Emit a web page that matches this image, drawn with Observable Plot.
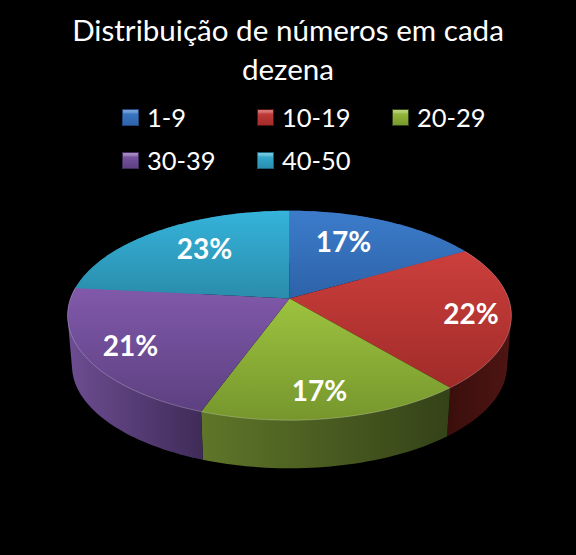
<!DOCTYPE html>
<html lang="pt">
<head>
<meta charset="utf-8">
<script src="https://cdn.jsdelivr.net/npm/d3@7"></script>
<script src="https://cdn.jsdelivr.net/npm/@observablehq/plot@0.6"></script>
<style>
html,body{margin:0;padding:0;background:#000;width:576px;height:555px;overflow:hidden}
#page{width:576px;font-family:Lato,"Open Sans",sans-serif;color:#fff}
#title{height:90px;padding-top:10px;box-sizing:border-box;text-align:center;font-size:29.6px;line-height:39px}
#legend{height:90px;box-sizing:border-box;display:grid;grid-template-columns:135px 135px 135px;grid-auto-rows:43px;padding:6px 0 0 122px;font-size:25.5px}
.item{display:flex;align-items:center;line-height:1}
.sw{width:17px;height:17px;margin-right:8px;box-sizing:border-box;flex:none}
svg{display:block}
</style>
</head>
<body>
<div id="page">
  <div id="title"></div>
  <div id="legend"></div>
  <div id="chart"></div>
</div>
<script>
const titleLines = ["Distribuição de números em cada", "dezena"];
const categories = ["1-9", "10-19", "20-29", "30-39", "40-50"];
const counts = [15, 20, 15, 19, 21];
const topColors = [["#3c7ccb", "#2d62a8"], ["#cc3f3c", "#a02b29"], ["#9dc33f", "#76962d"], ["#8159ab", "#5c4080"], ["#35b3da", "#2a8cab"]];
const sideColors = [["#2d62a8", "#1e4478"], ["#3a0e0c", "#4e1513"], ["#5f7629", "#344218"], ["#6d4d92", "#3f2b58"], ["#2a8eae", "#1b6078"]];
const labelNudges = [[-14, -1], [32, 4], [1, 17], [-25, 9], [7, -1]];

const W = 576, H = 375;
const tilt = 0.162, lowerScale = 0.98, depth = 0.495;

d3.select("#title").selectAll("div").data(titleLines).join("div").text(d => d);
const items = d3.select("#legend").selectAll("div").data(categories).join("div").attr("class", "item");
items.append("span").attr("class", "sw")
  .style("background", (d, i) => `linear-gradient(${topColors[i][0]},${topColors[i][1]})`)
  .style("box-shadow", (d, i) => `inset 0 0 0 1px ${sideColors[i][1]}, inset 0 4px 2px rgba(255,255,255,.3)`);
items.append("span").text(d => d);

// perspective view of the unit disc: t is the fraction of the turn, clockwise from the top
function project(t, r = 1) {
  const a = t * 2 * Math.PI, u = r * Math.sin(a), v = -r * Math.cos(a), den = 1 - tilt * v;
  return {x: u / den, y: v / den};
}
const total = d3.sum(counts);
const edges = [0, ...d3.cumsum(counts).map(c => c / total)];
const arc = (i) => {
  const n = Math.ceil((edges[i + 1] - edges[i]) * 240);
  return d3.range(n + 1).map(k => project(edges[i] + (edges[i + 1] - edges[i]) * k / n));
};
const topPolys = categories.map((c, i) => [{x: 0, y: 0}, ...arc(i)]);
const lower = p => ({x: p.x * lowerScale, y: p.y * lowerScale + depth});
// the wall of a slice is the outline swept between its upper and lower rim; the top face hides the rest
const sidePolys = categories.map((c, i) => {
  const pts = [...arc(i), ...arc(i).map(lower)].map(p => [p.x, p.y]);
  return d3.polygonHull(pts).map(([x, y]) => ({x, y}));
});
const rimFront = edges.slice(0, -1).flatMap((e, i) => i >= 1 && i <= 3 ? arc(i) : []);
const labels = categories.map((c, i) => ({
  ...project((edges[i] + edges[i + 1]) / 2, 0.68),
  text: Math.round(counts[i] / total * 100) + "%"
}));

function gradients() {
  const defs = d3.create("svg:defs");
  const add = (id, cols, horizontal) => {
    const g = defs.append("linearGradient").attr("id", id)
      .attr("x1", 0).attr("y1", 0).attr("x2", horizontal ? 1 : 0).attr("y2", horizontal ? 0 : 1);
    g.append("stop").attr("offset", 0).attr("stop-color", cols[0]);
    g.append("stop").attr("offset", 1).attr("stop-color", cols[1]);
  };
  topColors.forEach((c, i) => add("top" + i, c, false));
  sideColors.forEach((c, i) => add("side" + i, c, true));
  return defs.node();
}

const chart = Plot.plot({
  width: W, height: H, margin: 0,
  style: {background: "#000"},
  x: {domain: [-1, 1], range: [70, 508], axis: null},
  y: {domain: [-1, 1], range: [16, 220], axis: null},
  marks: [
    gradients,
    ...sidePolys.map((p, i) => Plot.line(p, {x: "x", y: "y", fill: `url(#side${i})`, stroke: "none"})),
    ...topPolys.map((p, i) => Plot.line(p, {x: "x", y: "y", fill: `url(#top${i})`, stroke: "none"})),
    Plot.line(rimFront, {x: "x", y: "y", stroke: "#fff", strokeOpacity: 0.3, strokeWidth: 0.8}),
    ...labels.map((d, i) => Plot.text([d], {
      x: "x", y: "y", text: "text", fill: "#fff", fontSize: 28, fontWeight: 700,
      fontFamily: "Lato", dx: labelNudges[i][0], dy: labelNudges[i][1]
    }))
  ]
});
document.getElementById("chart").append(chart);
</script>
</body>
</html>
